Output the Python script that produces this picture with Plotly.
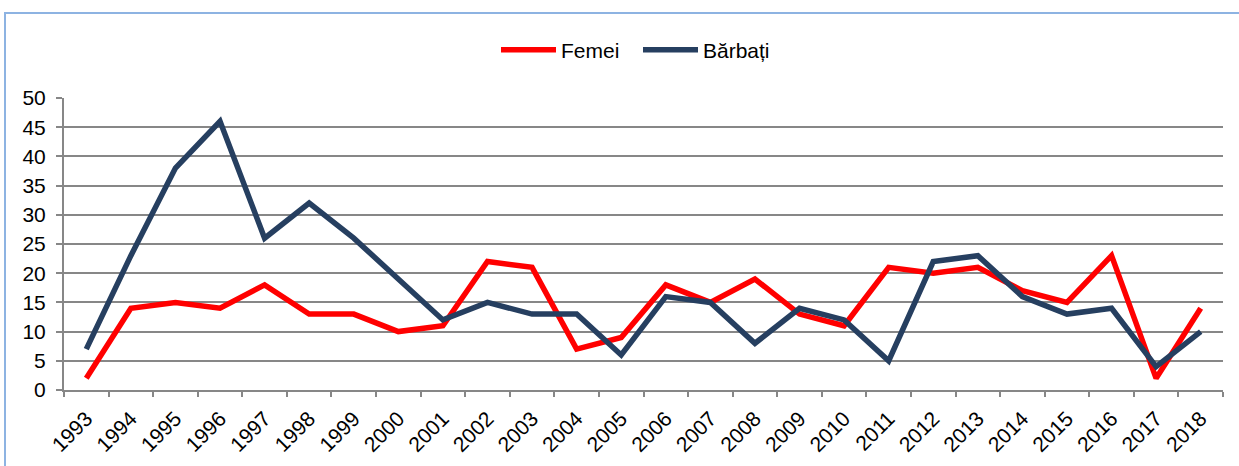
import plotly.graph_objects as go

years = [str(y) for y in range(1993, 2019)]
femei = [2, 14, 15, 14, 18, 13, 13, 10, 11, 22, 21, 7, 9, 18, 15, 19, 13, 11, 21, 20, 21, 17, 15, 23, 2, 14]
barbati = [7, 23, 38, 46, 26, 32, 26, 19, 12, 15, 13, 13, 6, 16, 15, 8, 14, 12, 5, 22, 23, 16, 13, 14, 4, 10]

RED = "#FF0000"
BLUE = "#263F60"
GRID = "#878787"

fig = go.Figure()
fig.add_trace(go.Scatter(x=years, y=femei, name="Femei", mode="lines",
                         line=dict(color=RED, width=5.5)))
fig.add_trace(go.Scatter(x=years, y=barbati, name="Bărbați", mode="lines",
                         line=dict(color=BLUE, width=5.5)))

W, H = 1239, 466
L, R, T, B = 64, 16, 98, 76
pw = W - L - R
ph = H - T - B

fig.update_layout(
    width=W, height=H,
    margin=dict(l=L, r=R, t=T, b=B, autoexpand=False),
    paper_bgcolor="white", plot_bgcolor="white",
    font=dict(family="Liberation Sans, Arial", size=21, color="#000000"),
    showlegend=True,
    legend=dict(orientation="h", xref="container", yref="container",
                x=638 / W, xanchor="center",
                y=1 - 50 / H, yanchor="middle",
                itemwidth=55, entrywidth=72, font=dict(size=21),
                bgcolor="rgba(0,0,0,0)"),
    xaxis=dict(type="category", range=[-0.5, len(years) - 0.5], showgrid=False,
               showline=True, linecolor=GRID, automargin=False,
               linewidth=2, ticks="outside", tickson="boundaries", ticklen=5,
               tickcolor=GRID, tickwidth=2, tickangle=-45, ticklabelstandoff=6,
               tickfont=dict(size=21)),
    yaxis=dict(range=[0, 50], dtick=5, showgrid=True, gridcolor=GRID, gridwidth=2,
               showline=True, linecolor=GRID, linewidth=2, ticks="outside",
               ticklen=6, tickcolor=GRID, tickwidth=2, zeroline=False,
               automargin=False, ticklabelstandoff=6,
               tickfont=dict(size=21)),
    shapes=[dict(type="rect", xref="paper", yref="paper",
                 x0=(5 - L) / pw, x1=(1260 - L) / pw,
                 y0=-(500 - 390) / ph, y1=(390 - 13) / ph,
                 line=dict(color="#8DB3E2", width=2), fillcolor="rgba(0,0,0,0)",
                 layer="below")],
)

fig.write_html("out.html", config={"displayModeBar": False},
               post_script="document.body.style.margin='0';document.body.style.overflow='hidden';")
